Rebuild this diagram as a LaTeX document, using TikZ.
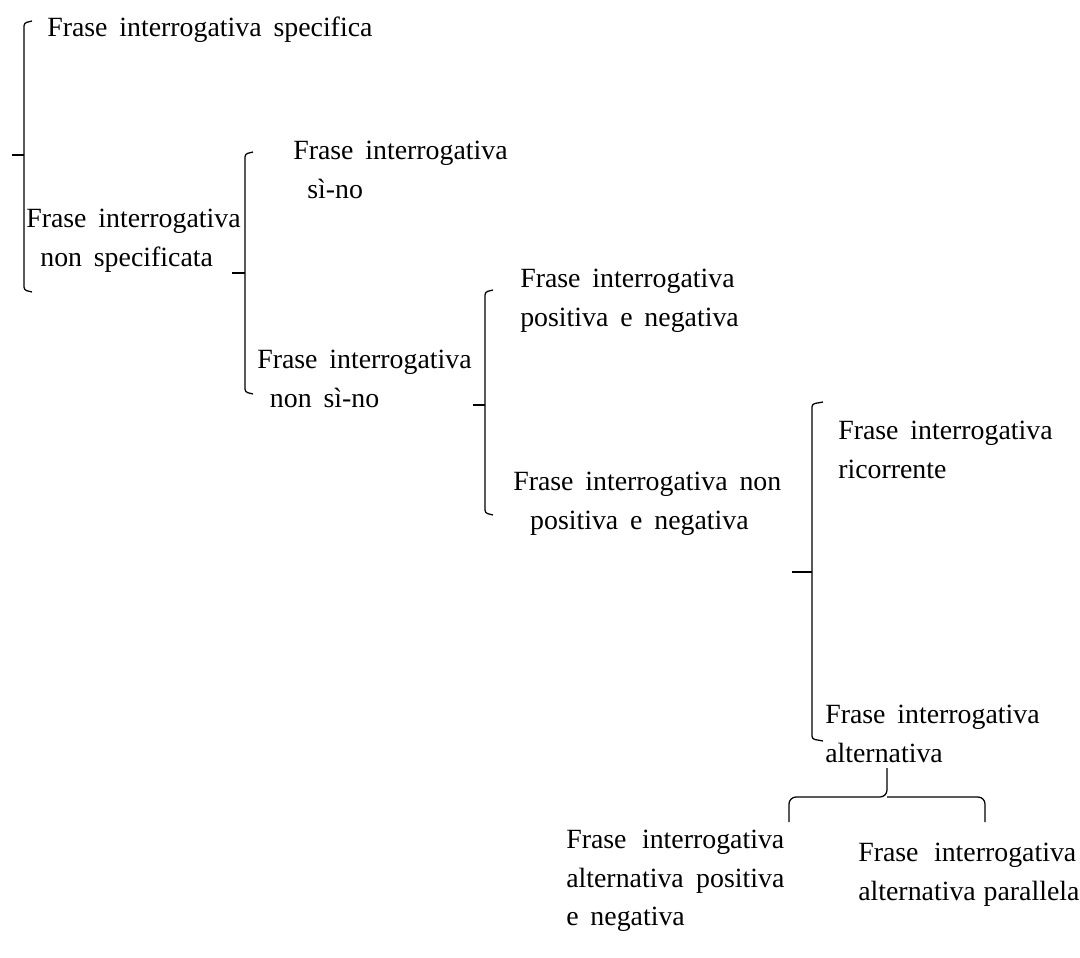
\documentclass[tikz,border=0pt]{standalone}
\usepackage{fontspec}
\setmainfont{Liberation Serif}[WordSpace=1.7]
\begin{document}
\begin{tikzpicture}[x=0.025cm,y=-0.025cm,tipo/.style={anchor=west,align=left,inner sep=0pt,font=\fontsize{19.8}{27.5}\selectfont},brack/.style={line width=0.9pt,rounded corners=2pt},tick/.style={line width=1.3pt}]
\def\wb{5.45cm};
\useasboundingbox (0,0) rectangle (1080,958);

\node[tipo] (spec) at (47,30) {Frase interrogativa specifica};
\node[tipo] (nonspec) at (26,241) {Frase interrogativa\\\hspace*{10pt}non specificata};
\draw[brack] (32,21) -- (24,23) -- (24,290) -- (32,292);
\draw[tick] (12,155) -- (24,155);

\node[tipo] (sino) at (293,170) {Frase interrogativa\\\hspace*{10pt}sì-no};
\node[tipo] (nonsino) at (257,379) {Frase interrogativa\\\hspace*{9pt}non sì-no};
\draw[brack] (253,152) -- (245,154) -- (245,392) -- (253,394);
\draw[tick] (232,273) -- (245,273);

\node[tipo] (posneg) at (520,301) {Frase interrogativa\\positiva e negativa};
\node[tipo] (nonposneg) at (513,504) {Frase interrogativa non\\\hspace*{12pt}positiva e negativa};
\draw[brack] (493,290) -- (485,292) -- (485,513) -- (493,515);
\draw[tick] (473,405) -- (485,405);

\node[tipo] (ricor) at (838,450) {Frase interrogativa\\ricorrente};
\node[tipo] (altern) at (825,734) {Frase interrogativa\\alternativa};
\draw[brack] (823,402) -- (812,404) -- (812,739) -- (823,741);
\draw[tick] (792,572) -- (812,572);

\draw[brack,rounded corners=5pt] (789,822) -- (789,797) -- (887,797) -- (887,768);
\draw[brack,rounded corners=5pt] (985,822) -- (985,797) -- (887,797);

\node[tipo] (altposneg) at (566,881) {\makebox[\wb][s]{Frase interrogativa}\\\makebox[\wb][s]{alternativa positiva}\\e negativa};
\node[tipo] (altpar) at (858,875) {\makebox[\wb][s]{Frase interrogativa}\\\makebox[\wb][s]{alternativa parallela}};
\end{tikzpicture}
\end{document}
